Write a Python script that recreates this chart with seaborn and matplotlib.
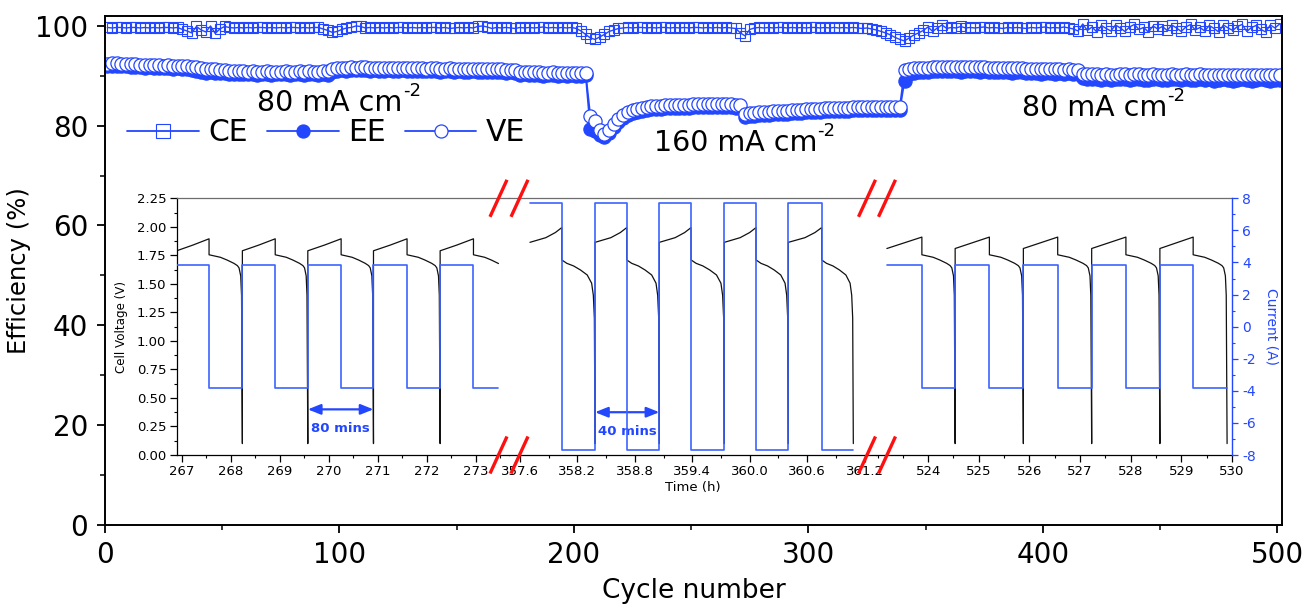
import numpy as np
import pandas as pd
import matplotlib
matplotlib.use("Agg")
import matplotlib.pyplot as plt
import seaborn as sns
from matplotlib.ticker import MultipleLocator, FixedLocator, FormatStrFormatter
from matplotlib.lines import Line2D
from matplotlib.patches import ArrowStyle

# ------------------------------------------------------------------ data
# main panel: efficiencies read every 2nd cycle (1, 3, ..., 501)
cycles = np.arange(1, 502, 2)

ce = [
    # 1-35
    99.7, 99.6, 99.7, 99.7, 99.6, 99.7, 99.7, 99.6, 99.7, 99.6,
    99.7, 99.6, 99.7, 99.7, 99.6, 99.7, 99.3, 99.0,
    # 37-55
    98.6, 99.9, 99.2, 98.8, 100.0, 98.5, 99.4, 99.9, 99.7, 99.6,
    # 57-95
    99.7, 99.6, 99.7, 99.6, 99.7, 99.7, 99.6, 99.7, 99.6, 99.7,
    99.6, 99.7, 99.7, 99.6, 99.7, 99.6, 99.7, 99.7, 99.4, 99.1,
    # 97-99
    98.7, 98.9,
    # 101-175
    99.3, 99.6, 99.7, 100.0, 99.9, 99.6, 99.7, 99.6, 99.7, 99.6,
    99.7, 99.6, 99.7, 99.7, 99.6, 99.7, 99.6, 99.7, 99.6, 99.7,
    99.7, 99.6, 99.7, 99.5, 99.6, 99.7, 99.6, 99.7, 99.6, 99.9,
    100.0, 99.8, 99.5, 99.7, 99.6, 99.7, 99.6, 99.5,
    # 177-205
    99.7, 99.6, 99.7, 99.6, 99.7, 99.8, 99.6, 99.7, 99.6, 99.7,
    99.6, 99.7, 99.5, 99.0, 98.3,
    # 207-267
    97.6, 97.3, 97.8, 98.3, 98.9, 99.2, 99.5, 99.6, 99.7, 99.6,
    99.7, 99.7, 99.6, 99.7, 99.6, 99.7, 99.7, 99.6, 99.7, 99.6,
    99.7, 99.6, 99.7, 99.7, 99.6, 99.7, 99.6, 99.7, 99.6, 99.7,
    99.6,
    # 269-271
    99.5, 98.6,
    # 273-339
    98.0, 99.3, 99.6, 99.7, 99.6, 99.7, 99.6, 99.7, 99.7, 99.6,
    99.7, 99.6, 99.7, 99.6, 99.7, 99.7, 99.6, 99.7, 99.6, 99.7,
    99.6, 99.7, 99.6, 99.7, 99.6, 99.5, 99.6, 99.4, 99.2, 98.9,
    98.6, 98.2, 97.7, 97.3,
    # 341-415
    97.0, 97.6, 98.2, 98.6, 99.1, 99.8, 98.9, 99.6, 100.2, 99.5,
    99.7, 99.6, 99.9, 99.6, 99.7, 99.6, 99.7, 99.8, 99.6, 99.7,
    99.6, 99.5, 99.7, 99.6, 99.7, 99.6, 99.5, 99.7, 99.6, 99.7,
    99.8, 99.6, 99.7, 99.6, 99.8, 99.6, 99.4, 99.0,
    # 417-501
    100.4, 99.1, 99.8, 98.8, 100.1, 99.5, 99.0, 100.2, 99.6, 98.9,
    99.8, 100.3, 99.3, 99.7, 98.8, 100.0, 99.4, 99.9, 99.1, 100.2,
    99.6, 98.9, 99.8, 100.3, 99.2, 99.7, 99.0, 100.1, 99.5, 98.8,
    100.2, 99.6, 99.1, 99.9, 100.3, 98.9, 99.7, 100.1, 99.3, 98.8,
    100.2, 99.6, 100.4,
]

ee = [
    # 1-35
    91.9, 92.0, 92.0, 91.9, 91.9, 91.8, 91.8, 91.7, 91.6, 91.7,
    91.6, 91.5, 91.5, 91.6, 91.4, 91.5, 91.4, 91.3,
    # 37-55
    91.1, 90.9, 90.8, 90.6, 90.7, 90.6, 90.5, 90.5, 90.4, 90.4,
    # 57-95
    90.3, 90.4, 90.3, 90.3, 90.2, 90.3, 90.4, 90.2, 90.3, 90.3,
    90.4, 90.2, 90.3, 90.3, 90.2, 90.4, 90.3, 90.2, 90.3, 90.2,
    # 97-99
    90.7, 91.0,
    # 101-175
    91.1, 91.0, 91.2, 91.1, 91.2, 91.1, 91.0, 91.1, 91.0, 91.0,
    91.1, 90.9, 91.0, 91.1, 91.0, 90.9, 91.0, 90.9, 90.9, 91.0,
    90.9, 90.8, 90.9, 90.9, 90.8, 90.9, 90.8, 90.7, 90.9, 90.8,
    90.7, 90.8, 90.8, 90.7, 90.7, 90.6, 90.7, 90.6,
    # 177-205
    90.2, 90.3, 90.1, 90.2, 90.1, 90.0, 90.1, 90.2, 90.0, 90.1,
    90.0, 90.1, 89.9, 90.0, 90.1,
    # 207-267
    79.3, 78.9, 78.2, 77.8, 78.6, 79.7, 80.7, 81.5, 82.1, 82.5,
    82.8, 83.0, 83.2, 83.3, 83.4, 83.4, 83.5, 83.5, 83.5, 83.6,
    83.6, 83.6, 83.7, 83.7, 83.7, 83.8, 83.8, 83.8, 83.8, 83.7,
    83.7,
    # 269-271
    83.6, 83.6,
    # 273-339
    81.8, 81.9, 82.0, 82.1, 82.1, 82.2, 82.3, 82.3, 82.4, 82.4,
    82.5, 82.6, 82.6, 82.7, 82.7, 82.8, 82.8, 82.9, 82.9, 82.9,
    83.0, 83.0, 83.0, 83.1, 83.1, 83.1, 83.1, 83.2, 83.2, 83.2,
    83.2, 83.2, 83.2, 83.2,
    # 341-415
    88.9, 90.3, 90.6, 90.7, 90.8, 90.8, 90.9, 91.0, 91.0, 90.9,
    91.0, 90.9, 90.8, 90.9, 91.0, 91.0, 90.8, 90.9, 90.8, 90.7,
    90.8, 90.7, 90.8, 90.6, 90.7, 90.7, 90.5, 90.6, 90.6, 90.4,
    90.6, 90.5, 90.4, 90.5, 90.3, 90.5, 90.4, 90.3,
    # 417-501
    89.5, 89.3, 89.4, 89.3, 89.2, 89.4, 89.2, 89.3, 89.4, 89.3,
    89.2, 89.4, 89.3, 89.2, 89.1, 89.4, 89.3, 89.2, 89.1, 89.4,
    89.3, 89.2, 89.4, 89.2, 89.1, 89.3, 89.2, 89.3, 89.0, 89.2,
    89.3, 89.1, 89.0, 89.2, 89.3, 89.1, 89.0, 89.2, 89.3, 89.1,
    89.0, 89.2, 89.1,
]

ve = [
    # 1-35
    92.4, 92.5, 92.5, 92.4, 92.4, 92.3, 92.3, 92.2, 92.2, 92.2,
    92.1, 92.1, 92.0, 92.1, 92.0, 92.0, 91.9, 91.9,
    # 37-55
    91.8, 91.7, 91.6, 91.4, 91.3, 91.3, 91.2, 91.1, 91.0, 91.0,
    # 57-95
    90.9, 90.9, 90.8, 90.9, 90.8, 90.8, 90.9, 90.8, 90.8, 90.8,
    90.9, 90.8, 90.8, 90.9, 90.8, 90.9, 90.8, 90.8, 90.9, 90.9,
    # 97-99
    91.4, 91.5,
    # 101-175
    91.6, 91.6, 91.7, 91.6, 91.7, 91.7, 91.6, 91.6, 91.6, 91.5,
    91.6, 91.5, 91.5, 91.6, 91.6, 91.5, 91.5, 91.5, 91.4, 91.5,
    91.5, 91.4, 91.4, 91.5, 91.4, 91.4, 91.4, 91.3, 91.4, 91.3,
    91.3, 91.4, 91.3, 91.3, 91.3, 91.2, 91.2, 91.2,
    # 177-205
    90.8, 90.8, 90.7, 90.7, 90.7, 90.6, 90.6, 90.7, 90.6, 90.6,
    90.6, 90.6, 90.5, 90.6, 90.6,
    # 207-267
    82.0, 81.0, 79.2, 78.3, 79.2, 80.3, 81.3, 82.1, 82.7, 83.1,
    83.4, 83.6, 83.8, 83.9, 84.0, 84.0, 84.1, 84.1, 84.1, 84.2,
    84.2, 84.2, 84.3, 84.3, 84.3, 84.4, 84.4, 84.4, 84.4, 84.3,
    84.3,
    # 269-271
    84.2, 84.2,
    # 273-339
    82.4, 82.5, 82.6, 82.7, 82.7, 82.8, 82.9, 82.9, 83.0, 83.0,
    83.1, 83.2, 83.2, 83.3, 83.3, 83.4, 83.4, 83.5, 83.5, 83.5,
    83.6, 83.6, 83.6, 83.7, 83.7, 83.7, 83.7, 83.8, 83.8, 83.8,
    83.8, 83.8, 83.8, 83.8,
    # 341-415
    91.2, 91.4, 91.5, 91.5, 91.6, 91.6, 91.7, 91.8, 91.8, 91.8,
    91.8, 91.7, 91.7, 91.7, 91.8, 91.8, 91.7, 91.7, 91.6, 91.6,
    91.6, 91.5, 91.6, 91.5, 91.5, 91.5, 91.4, 91.4, 91.4, 91.3,
    91.4, 91.3, 91.3, 91.3, 91.2, 91.3, 91.2, 91.2,
    # 417-501
    90.4, 90.3, 90.3, 90.3, 90.2, 90.3, 90.2, 90.2, 90.3, 90.3,
    90.2, 90.3, 90.3, 90.2, 90.2, 90.3, 90.2, 90.2, 90.2, 90.3,
    90.2, 90.2, 90.3, 90.2, 90.2, 90.3, 90.2, 90.2, 90.1, 90.2,
    90.2, 90.2, 90.1, 90.2, 90.2, 90.2, 90.1, 90.2, 90.2, 90.2,
    90.1, 90.2, 90.2,
]

series_names = ["CE", "EE", "VE"]
rate_labels = ["80 mA cm", "160 mA cm", "80 mA cm"]
rate_exponent = "-2"
rate_label_x = [96, 269, 422]
rate_label_y = [84.6, 76.6, 83.6]

# inset: half-cycle boundaries (h), charge first
seg1_bounds = [266.9, 267.56, 268.24, 268.91, 269.575, 270.255, 270.915,
               271.6, 272.275, 272.955, 273.63]
seg1_end = 273.465
seg2_bounds = [357.704, 358.036, 358.384, 358.715, 359.056, 359.387,
               359.735, 360.066, 360.404, 360.752, 361.083]
seg2_end = 361.083
seg3_bounds = [523.185, 523.876, 524.533, 525.209, 525.88, 526.558,
               527.229, 527.905, 528.576, 529.233, 529.903]
seg3_end = 529.903
current_80 = 3.84
current_160 = 7.68

# voltage profiles within a half cycle (fraction of half cycle, V)
charge80_u = [0.0, 0.5, 1.0]
seg1_charge_v = [1.79, 1.84, 1.895]
seg3_charge_v = [1.81, 1.86, 1.91]
dis80_u = [0.0, 0.34, 0.54, 0.745, 0.85, 0.90, 0.95, 0.975, 1.0]
dis80_v = [1.755, 1.733, 1.709, 1.680, 1.660, 1.640, 1.57, 1.40, 0.10]
charge160_u = [0.0, 0.5, 0.8, 1.0]
charge160_v = [1.864, 1.905, 1.95, 1.993]
dis160_u = [0.0, 0.153, 0.357, 0.561, 0.765, 0.898, 0.949, 0.98, 1.0]
dis160_v = [1.710, 1.680, 1.657, 1.622, 1.578, 1.506, 1.40, 1.20, 0.10]

seg1_ticks = [267, 268, 269, 270, 271, 272, 273]
seg2_ticks = [357.6, 358.2, 358.8, 359.4, 360.0, 360.6, 361.2]
seg3_ticks = [524, 525, 526, 527, 528, 529, 530]

# ------------------------------------------------------------------ style
BLUE = "#2346ff"
CUR_BLUE = "#3d63ff"
sns.set_theme(style="ticks", rc={
    "axes.edgecolor": "black", "xtick.color": "black", "ytick.color": "black",
    "text.color": "black", "axes.labelcolor": "black",
})
plt.rcParams["font.family"] = ["DejaVu Sans"]
plt.rcParams["axes.unicode_minus"] = False

W, H = 1303, 606
fig = plt.figure(figsize=(W / 100, H / 100), dpi=100)
fig.patch.set_facecolor("white")

# ------------------------------------------------------------------ main axes
ax = fig.add_axes([105 / W, 1 - 524.6 / H, (1282 - 105) / W, 508.6 / H])
df = pd.DataFrame({"cycle": cycles, "CE": ce, "EE": ee, "VE": ve})

sns.lineplot(data=df, x="cycle", y="CE", ax=ax, estimator=None, sort=False,
             color=BLUE, linewidth=1.0, marker="s", markersize=7.2,
             markerfacecolor="none", markeredgecolor=BLUE,
             markeredgewidth=0.8, label="CE")
sns.lineplot(data=df, x="cycle", y="EE", ax=ax, estimator=None, sort=False,
             color=BLUE, linewidth=1.2, marker="o", markersize=9.5,
             markerfacecolor=BLUE, markeredgecolor=BLUE,
             markeredgewidth=0.9, label="EE")
sns.lineplot(data=df, x="cycle", y="VE", ax=ax, estimator=None, sort=False,
             color=BLUE, linewidth=1.2, marker="o", markersize=9.5,
             markerfacecolor="white", markeredgecolor=BLUE,
             markeredgewidth=0.9, label="VE")

ax.set_xlim(0, 502)
ax.set_ylim(0, 102)
ax.xaxis.set_major_locator(MultipleLocator(100))
ax.xaxis.set_minor_locator(MultipleLocator(50))
ax.yaxis.set_major_locator(MultipleLocator(20))
ax.yaxis.set_minor_locator(MultipleLocator(10))
ax.tick_params(which="both", direction="out", top=False, right=False)
ax.tick_params(which="major", length=6, width=1.3, labelsize=20, pad=6)
ax.tick_params(which="minor", length=3.5, width=1.1)
for s in ax.spines.values():
    s.set_linewidth(1.4)
    s.set_color("black")
ax.set_xlabel("Cycle number", fontsize=19, labelpad=6)
ax.set_ylabel("Efficiency (%)", fontsize=17.5, labelpad=3)

for lab, lx, ly in zip(rate_labels, rate_label_x, rate_label_y):
    t = ax.text(lx, ly, lab, fontsize=20.5, ha="center", va="center")
    ax.annotate(rate_exponent, xy=(1.0, 0.93), xycoords=t, fontsize=13,
                ha="left", va="center")

handles, labels = ax.get_legend_handles_labels()
leg = ax.legend(handles, labels, loc="center left", bbox_to_anchor=(0.019, 0.77),
                ncol=3, frameon=False, fontsize=21.5, handlelength=2.4,
                handletextpad=0.3, columnspacing=0.65, borderaxespad=0,
                borderpad=0)
for h in leg.legend_handles:
    h.set_markersize(9.4)
    h.set_linewidth(1.3)


# ------------------------------------------------------------------ inset
def build_curves(bounds, t_end, ch_u, ch_v, dis_u, dis_v, amp):
    tv, vv, tc, ic = [], [], [], []
    for k in range(len(bounds) - 1):
        t0, t1 = bounds[k], bounds[k + 1]
        if k % 2 == 0:
            u, v, cur = ch_u, ch_v, amp
        else:
            u, v, cur = dis_u, dis_v, -amp
        tv.extend(t0 + np.asarray(u) * (t1 - t0))
        vv.extend(v)
        tc.extend([t0, t1])
        ic.extend([cur, cur])
    tv, vv, tc, ic = map(np.asarray, (tv, vv, tc, ic))
    if t_end < tv[-1]:
        v_end = np.interp(t_end, tv, vv)
        keep = tv <= t_end
        tv, vv = np.append(tv[keep], t_end), np.append(vv[keep], v_end)
        keepc = tc <= t_end
        tc, ic = np.append(tc[keepc], t_end), np.append(ic[keepc], ic[keepc][-1])
    return tv, vv, tc, ic


segments = [
    dict(px=(176.7, 509), xlim=(266.9, 273.68), bounds=seg1_bounds, end=seg1_end,
         ch_u=charge80_u, ch_v=seg1_charge_v, dis_u=dis80_u, dis_v=dis80_v,
         amp=current_80, ticks=seg1_ticks, minor=0.5, fmt="%d"),
    dict(px=(509, 876), xlim=(357.485, 361.32), bounds=seg2_bounds, end=seg2_end,
         ch_u=charge160_u, ch_v=charge160_v, dis_u=dis160_u, dis_v=dis160_v,
         amp=current_160, ticks=seg2_ticks, minor=0.3, fmt="%.1f"),
    dict(px=(876, 1232), xlim=(522.97, 530.0), bounds=seg3_bounds, end=seg3_end,
         ch_u=charge80_u, ch_v=seg3_charge_v, dis_u=dis80_u, dis_v=dis80_v,
         amp=current_80, ticks=seg3_ticks, minor=0.5, fmt="%d"),
]

ins_bottom = 1 - 455 / H
ins_height = (455 - 198.3) / H
inset_axes = []
for i, seg in enumerate(segments):
    x0, x1 = seg["px"]
    axv = fig.add_axes([x0 / W, ins_bottom, (x1 - x0) / W, ins_height])
    axv.set_facecolor("white")
    axi = axv.twinx()
    tv, vv, tc, ic = build_curves(seg["bounds"], seg["end"], seg["ch_u"], seg["ch_v"],
                                  seg["dis_u"], seg["dis_v"], seg["amp"])
    sns.lineplot(x=tv, y=vv, ax=axv, estimator=None, sort=False,
                 color="#111111", linewidth=0.9)
    sns.lineplot(x=tc, y=ic, ax=axi, estimator=None, sort=False,
                 color=CUR_BLUE, linewidth=1.2)
    axv.set_xlim(*seg["xlim"])
    axv.set_ylim(0, 2.25)
    axi.set_ylim(-8, 8)
    axv.set_xlabel("")
    axv.set_ylabel("")
    axi.set_ylabel("")
    axv.xaxis.set_major_locator(FixedLocator(seg["ticks"]))
    axv.xaxis.set_major_formatter(FormatStrFormatter(seg["fmt"]))
    axv.xaxis.set_minor_locator(MultipleLocator(seg["minor"]))
    axv.yaxis.set_major_locator(MultipleLocator(0.25))
    axv.yaxis.set_minor_locator(MultipleLocator(0.125))
    axv.yaxis.set_major_formatter(FormatStrFormatter("%.2f"))
    axi.yaxis.set_major_locator(MultipleLocator(2))
    axi.yaxis.set_minor_locator(MultipleLocator(1))

    axv.tick_params(which="both", direction="out", top=False, right=False,
                    left=(i == 0), labelleft=(i == 0))
    axv.tick_params(which="major", length=5, width=0.9, labelsize=9.5, pad=2.5)
    axv.tick_params(which="minor", length=2.5, width=0.8)
    axi.tick_params(which="both", direction="out", left=False, labelleft=False,
                    right=(i == 2), labelright=(i == 2), colors=BLUE)
    axi.tick_params(which="major", length=4.5, width=0.9, labelsize=10, pad=3)
    axi.tick_params(which="minor", length=2.5, width=0.8)
    axi.tick_params(axis="x", which="both", bottom=False, top=False,
                    labelbottom=False, labeltop=False)

    for name, s in axv.spines.items():
        s.set_linewidth(0.9)
    axv.spines["top"].set_color("#6e6e6e")
    axv.spines["bottom"].set_color("black")
    axv.spines["right"].set_visible(False)
    axv.spines["left"].set_visible(i == 0)
    for name, s in axi.spines.items():
        s.set_visible(False)
    if i == 2:
        axi.spines["right"].set_visible(True)
        axi.spines["right"].set_color(BLUE)
        axi.spines["right"].set_linewidth(1.0)
        axi.set_ylabel("Current (A)", color=BLUE, fontsize=10, rotation=270,
                       va="bottom", labelpad=6)
    if i == 0:
        axv.set_ylabel("Cell Voltage (V)", fontsize=8.6, labelpad=6)
    if i == 1:
        axv.set_xlabel("Time (h)", fontsize=9.5, labelpad=1.5)
    inset_axes.append((axv, axi))

# period annotations
arrow = ArrowStyle("<|-|>", head_length=0.55, head_width=0.22)
ax1v = inset_axes[0][0]
ax1v.annotate("", xy=(seg1_bounds[6], 0.40), xytext=(seg1_bounds[4], 0.40),
              arrowprops=dict(arrowstyle=arrow, color=BLUE, lw=1.6,
                              mutation_scale=14, shrinkA=0, shrinkB=0))
ax1v.text((seg1_bounds[4] + seg1_bounds[6]) / 2, 0.235, "80 mins", color=BLUE,
          fontsize=9.5, fontweight="bold", ha="center", va="center")
ax2v = inset_axes[1][0]
ax2v.annotate("", xy=(seg2_bounds[4], 0.375), xytext=(seg2_bounds[2], 0.375),
              arrowprops=dict(arrowstyle=arrow, color=BLUE, lw=1.6,
                              mutation_scale=14, shrinkA=0, shrinkB=0))
ax2v.text((seg2_bounds[2] + seg2_bounds[4]) / 2, 0.205, "40 mins", color=BLUE,
          fontsize=9.5, fontweight="bold", ha="center", va="center")

# axis-break marks
for xc in (498.5, 519.5, 867, 887):
    for yc in (198.3, 455):
        fig.add_artist(Line2D([(xc - 8.5) / W, (xc + 8.5) / W],
                              [1 - (yc + 18.5) / H, 1 - (yc - 18.5) / H],
                              transform=fig.transFigure, color="#ff1010",
                              linewidth=2.4, solid_capstyle="butt", zorder=10))

fig.savefig("out.png", dpi=100, facecolor="white")
